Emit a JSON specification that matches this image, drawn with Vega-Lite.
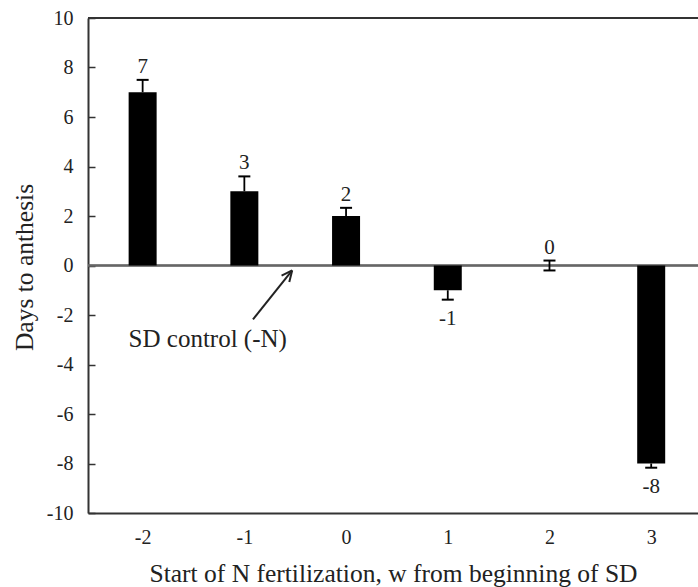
{
  "$schema": "https://vega.github.io/schema/vega-lite/v6.json",
  "width": 610,
  "height": 495,
  "autosize": {"type": "none"},
  "padding": {"left": 88, "top": 18, "right": 0, "bottom": 74},
  "background": "white",
  "config": {
    "view": {"stroke": null},
    "font": "Liberation Serif",
    "axis": {"grid": false, "labelFont": "Liberation Serif", "titleFont": "Liberation Serif", "titleFontWeight": "normal", "labelColor": "#222", "titleColor": "#222", "domainColor": "#333", "domainWidth": 2}
  },
  "datasets": {
    "bars": [
      {"week": -2, "days": 7, "errLo": 7, "errHi": 7.5},
      {"week": -1, "days": 3, "errLo": 3, "errHi": 3.6},
      {"week": 0, "days": 2, "errLo": 2, "errHi": 2.33},
      {"week": 1, "days": -1, "errLo": -1.38, "errHi": -1},
      {"week": 2, "days": 0, "errLo": -0.2, "errHi": 0.2},
      {"week": 3, "days": -8, "errLo": -8.17, "errHi": -8}
    ],
    "arrow": [
      {"xa": -0.915, "ya": -2.18, "xb": -0.53, "yb": -0.2},
      {"xa": -0.634, "ya": -0.41, "xb": -0.53, "yb": -0.2},
      {"xa": -0.558, "ya": -0.67, "xb": -0.53, "yb": -0.2}
    ],
    "note": [
      {"xn": -1.36, "yn": -2.97, "text": "SD control (-N)"}
    ]
  },
  "layer": [
    {
      "data": {"name": "bars"},
      "mark": {"type": "rule", "color": "#333", "strokeWidth": 2},
      "encoding": {"y": {"datum": 10, "type": "quantitative"}}
    },
    {
      "data": {"name": "bars"},
      "mark": {"type": "rule", "color": "#666", "strokeWidth": 1.6},
      "encoding": {"y": {"datum": 0, "type": "quantitative"}}
    },
    {
      "data": {"name": "bars"},
      "mark": {"type": "bar", "color": "black", "width": 28},
      "encoding": {
        "x": {
          "field": "week", "type": "quantitative",
          "scale": {"domain": [-2.488, 3.411], "nice": false, "zero": false},
          "axis": {
            "values": [-2, -1, 0, 1, 2, 3], "labelExpr": "'' + datum.value", "ticks": false, "tickSize": 0,
            "labelFontSize": 20, "labelPadding": 24, "labelBaseline": "middle",
            "title": "Start of N fertilization, w from beginning of SD",
            "titleFontSize": 25.5, "titleBaseline": "middle", "titleY": 60
          }
        },
        "y": {
          "field": "days", "type": "quantitative",
          "scale": {"domain": [-10, 10], "nice": false},
          "axis": {
            "values": [-10, -8, -6, -4, -2, 0, 2, 4, 6, 8, 10], "labelExpr": "'' + datum.value",
            "tickSize": -7, "tickColor": "#333", "tickWidth": 1.5,
            "labelFontSize": 20, "labelPadding": 22,
            "title": "Days to anthesis", "titleFontSize": 25.5,
            "titleBaseline": "middle", "titleX": -64, "titleY": 249, "titleAngle": 270
          }
        }
      }
    },
    {
      "data": {"name": "bars"},
      "mark": {"type": "rule", "color": "black", "strokeWidth": 1.8},
      "encoding": {
        "x": {"field": "week", "type": "quantitative"},
        "y": {"field": "errLo", "type": "quantitative"},
        "y2": {"field": "errHi"}
      }
    },
    {
      "data": {"name": "bars"},
      "transform": [{"filter": "datum.errHi != datum.days"}],
      "mark": {"type": "point", "shape": "stroke", "size": 144, "filled": false, "color": "black", "strokeWidth": 2, "opacity": 1},
      "encoding": {
        "x": {"field": "week", "type": "quantitative"},
        "y": {"field": "errHi", "type": "quantitative"}
      }
    },
    {
      "data": {"name": "bars"},
      "transform": [{"filter": "datum.errLo != datum.days"}],
      "mark": {"type": "point", "shape": "stroke", "size": 144, "filled": false, "color": "black", "strokeWidth": 2, "opacity": 1},
      "encoding": {
        "x": {"field": "week", "type": "quantitative"},
        "y": {"field": "errLo", "type": "quantitative"}
      }
    },
    {
      "data": {"name": "bars"},
      "transform": [{"filter": "datum.days >= 0"}],
      "mark": {"type": "text", "fontSize": 21, "baseline": "alphabetic", "dy": -7, "color": "#222", "font": "Liberation Serif"},
      "encoding": {
        "x": {"field": "week", "type": "quantitative"},
        "y": {"field": "errHi", "type": "quantitative"},
        "text": {"field": "days", "type": "nominal"}
      }
    },
    {
      "data": {"name": "bars"},
      "transform": [{"filter": "datum.days < 0"}],
      "mark": {"type": "text", "fontSize": 21, "baseline": "top", "dy": 8, "color": "#222", "font": "Liberation Serif"},
      "encoding": {
        "x": {"field": "week", "type": "quantitative"},
        "y": {"field": "errLo", "type": "quantitative"},
        "text": {"field": "days", "type": "nominal"}
      }
    },
    {
      "data": {"name": "arrow"},
      "mark": {"type": "rule", "color": "#222", "strokeWidth": 2},
      "encoding": {
        "x": {"field": "xa", "type": "quantitative"},
        "y": {"field": "ya", "type": "quantitative"},
        "x2": {"field": "xb"},
        "y2": {"field": "yb"}
      }
    },
    {
      "data": {"name": "note"},
      "mark": {"type": "text", "fontSize": 25, "baseline": "middle", "align": "center", "color": "#222", "font": "Liberation Serif"},
      "encoding": {
        "x": {"field": "xn", "type": "quantitative"},
        "y": {"field": "yn", "type": "quantitative"},
        "text": {"field": "text"}
      }
    }
  ]
}
